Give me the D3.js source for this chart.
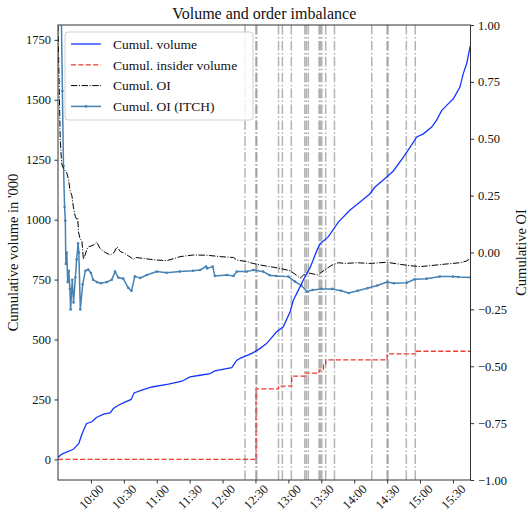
<!DOCTYPE html>
<html><head><meta charset="utf-8">
<script src="https://cdn.jsdelivr.net/npm/d3@7"></script>
<style>body{margin:0;background:#fff}svg{display:block}</style>
</head><body><svg id="c" width="528" height="516" font-family="'Liberation Serif', serif"></svg>
<script>
// ---- data ----
const volTimes = ["09:30","09:33:30","09:44","09:49","09:52","09:56","10:01","10:05","10:11:30","10:17:30","10:20:30","10:25","10:30","10:36:40","10:39:20","10:46:20","10:55:30","11:10:40","11:23","11:30:20","11:39:30","11:48:40","11:53","12:08:20","12:13","12:16","12:26:40","12:34","12:40","12:49:20","12:55:20","13:01:30","13:04:30","13:09","13:15","13:20","13:26","13:29","13:36:20","13:45:30","13:56","14:07","14:14:20","14:19","14:29:40","14:35:40","14:44:50","14:51","14:57","15:03","15:10:40","15:15","15:19:40","15:25:40","15:30:20","15:36:20","15:39:20","15:42:30","15:45:50"];
const volValues = [8,22,42,67,108,150,157,175,189,194,212,226,237,250,277,289,302,314,326,344,351,358,369,383,414,421,442,462,483,532,553,615,664,705,761,802,872,900,928,990,1039,1080,1108,1136,1178,1203,1261,1303,1345,1358,1386,1414,1455,1483,1504,1553,1608,1650,1726];

const insiderTimes = ["09:30","12:30:30","12:51","13:03","13:15","13:28","13:32","13:34","14:30","14:56","15:46"];
const insiderValues = [0,294,306,347,360,372,395,415,440,451,451];

const oiTimes = ["09:30","09:31","09:32","09:33:20","09:35","09:38","09:39:40","09:41","09:42:40","09:44","09:45:40","09:47:10","09:48","09:48:40","09:50:10","09:51:50","09:53:10","09:54:50","09:56:20","09:57:50","10:01","10:03","10:05:20","10:08:20","10:13","10:17:40","10:21:10","10:23:40","10:26:40","10:31:10","10:35:40","10:38:50","10:41:10","10:47:50","10:54","11:00","11:09","11:16:50","11:21:20","11:33:20","11:45:40","11:57:50","12:03:10","12:10","12:13","12:22","12:27:50","12:34:10","12:43:20","12:52:20","13:01:30","13:06","13:10:40","13:13:40","13:19:40","13:23:20","13:27:20","13:30:40","13:35","13:39:50","13:45:30","13:51:40","14:02:20","14:14:20","14:29:40","14:41:40","14:51","15:00","15:09","15:21","15:36:20","15:42","15:46"];
const oiValues = [1.0,0.75,0.5,0.39,0.37,0.35,0.32,0.27,0.25,0.2,0.16,0.145,0.15,0.09,0.06,0.05,-0.03,-0.01,0.015,0.025,0.03,0.035,0.045,0.018,0.0,-0.011,0.0,0.025,0.005,-0.005,-0.02,-0.03,-0.022,-0.026,-0.03,-0.033,-0.036,-0.025,-0.018,-0.011,-0.012,-0.018,-0.02,-0.022,-0.033,-0.04,-0.048,-0.055,-0.062,-0.07,-0.08,-0.095,-0.113,-0.099,-0.091,-0.095,-0.099,-0.085,-0.07,-0.055,-0.045,-0.048,-0.045,-0.048,-0.043,-0.052,-0.058,-0.062,-0.058,-0.052,-0.045,-0.038,-0.026];

const itchTimes = ["09:33","09:34","09:35","09:36","09:36:40","09:37:10","09:38","09:38:50","09:39:50","09:40:50","09:41:30","09:43","09:44:10","09:45:50","09:47","09:48:20","09:49","09:50:20","09:52:30","09:55","09:57:30","10:00","10:02","10:05:30","10:09","10:14:30","10:19","10:22","10:25","10:29:30","10:34","10:37","10:40","10:45","10:51","11:00","11:09","11:21","11:33","11:39:30","11:45","11:46","11:51","11:53","12:04","12:10","12:13","12:22","12:28","12:37","12:43","12:49","13:00","13:06","13:12","13:17","13:22","13:30","13:40","13:48","13:55","14:03","14:12","14:21","14:30","14:36","14:48","14:55","15:06","15:18","15:30","15:35","15:46"];
const itchValues = [1.05,0.71,0.38,0.2,0.14,-0.05,0.0,-0.13,-0.08,-0.16,-0.25,-0.12,-0.22,-0.11,-0.03,0.04,0.0,-0.25,-0.14,-0.08,-0.075,-0.09,-0.12,-0.13,-0.135,-0.13,-0.12,-0.084,-0.11,-0.115,-0.155,-0.168,-0.105,-0.112,-0.099,-0.084,-0.089,-0.084,-0.08,-0.077,-0.062,-0.07,-0.062,-0.103,-0.099,-0.103,-0.084,-0.084,-0.077,-0.084,-0.1,-0.103,-0.106,-0.128,-0.145,-0.172,-0.165,-0.16,-0.16,-0.168,-0.178,-0.168,-0.157,-0.145,-0.13,-0.135,-0.133,-0.118,-0.115,-0.106,-0.106,-0.108,-0.11];

const eventTimes = ["12:20:30","12:30:20","12:31:10","12:51","12:54:30","13:02:40","13:15","13:16:25","13:18:10","13:28","13:29:05","13:30:25","13:34","13:42","14:16","14:30","14:30:50","14:47:30","14:55:40"];

const xTickLabels = ["10:00","10:30","11:00","11:30","12:00","12:30","13:00","13:30","14:00","14:30","15:00","15:30"];
const leftTicks = [0,250,500,750,1000,1250,1500,1750];
const rightTicks = [-1,-0.75,-0.5,-0.25,0,0.25,0.5,0.75,1];

// ---- helpers ----
const FONT = "'Liberation Serif', serif";
const T = s => { const p = s.split(":").map(Number); return new Date(2000,0,1,p[0],p[1],p[2]||0); };
const zip = (ts, vs) => ts.map((t,i)=>({t:T(t), v:vs[i]}));

const svg = d3.select("#c");
const L=58, R=470.5, TOP=25, BOT=480;

const x = d3.scaleTime().domain([T("09:30"), T("15:46")]).range([L,R]);
const yL = d3.scaleLinear().domain([-86,1812]).range([BOT,TOP]);
const yR = d3.scaleLinear().domain([-1,1]).range([BOT,TOP]);

svg.append("clipPath").attr("id","clip").append("rect").attr("x",L).attr("y",TOP).attr("width",R-L).attr("height",BOT-TOP);
const g = svg.append("g").attr("clip-path","url(#clip)");

g.selectAll("line.ev").data(eventTimes).join("line")
  .attr("x1",d=>x(T(d))).attr("x2",d=>x(T(d))).attr("y1",TOP).attr("y2",BOT)
  .attr("stroke","#808080").attr("stroke-opacity",0.6).attr("stroke-width",1.5)
  .attr("stroke-dasharray","9.6,2.4,1.5,2.4");

const lineL = d3.line().x(d=>x(d.t)).y(d=>yL(d.v));
const lineR = d3.line().x(d=>x(d.t)).y(d=>yR(d.v));
const stepL = d3.line().curve(d3.curveStepAfter).x(d=>x(d.t)).y(d=>yL(d.v));

const itch = zip(itchTimes, itchValues);
g.append("path").datum(itch).attr("d",lineR).attr("fill","none").attr("stroke","#4682b4").attr("stroke-width",1.5);
g.selectAll("circle.it").data(itch).join("circle").attr("cx",d=>x(d.t)).attr("cy",d=>yR(d.v)).attr("r",1.3).attr("fill","#4682b4");

g.append("path").datum(zip(oiTimes, oiValues)).attr("d",lineR).attr("fill","none").attr("stroke","#000").attr("stroke-width",1)
  .attr("stroke-dasharray","6.4,1.6,1,1.6");

g.append("path").datum(zip(insiderTimes, insiderValues)).attr("d",stepL).attr("fill","none").attr("stroke","#f0392f").attr("stroke-width",1.3)
  .attr("stroke-dasharray","5,2.4");

g.append("path").datum(zip(volTimes, volValues)).attr("d",lineL).attr("fill","none").attr("stroke","#1536ff").attr("stroke-width",1.3);

svg.append("rect").attr("x",L).attr("y",TOP).attr("width",R-L).attr("height",BOT-TOP).attr("fill","none").attr("stroke","#333").attr("stroke-width",1);

const fmtR = d => d3.format(".2f")(d).replace("-","\u2212");
const axL = svg.append("g").attr("transform",`translate(${L},0)`).call(d3.axisLeft(yL).tickValues(leftTicks).tickFormat(d3.format("d")).tickSize(3.5).tickPadding(3.5));
const axR = svg.append("g").attr("transform",`translate(${R},0)`).call(d3.axisRight(yR).tickValues(rightTicks).tickFormat(fmtR).tickSize(3.5).tickPadding(4));
const xVals = xTickLabels.map(T);
const axB = svg.append("g").attr("transform",`translate(0,${BOT})`).call(d3.axisBottom(x).tickValues(xVals).tickFormat(d3.timeFormat("%H:%M")).tickSize(3.5));
[axL,axR,axB].forEach(a=>{a.attr("font-family",FONT).attr("font-size",12.5); a.select(".domain").remove(); a.selectAll("line").attr("stroke","#333"); a.selectAll("text").attr("fill","#111");});
axB.selectAll("text").attr("y",0).attr("dy",null).attr("text-anchor","middle").attr("dominant-baseline","central")
  .attr("transform","translate(0,17) rotate(-45)");

svg.append("text").attr("x",(L+R)/2).attr("y",19).attr("text-anchor","middle").attr("font-size",16).attr("fill","#111").text("Volume and order imbalance");
svg.append("text").attr("transform",`translate(18,${(TOP+BOT)/2}) rotate(-90)`).attr("text-anchor","middle").attr("font-size",14.5).attr("fill","#111").text("Cumulative volume in '000");
svg.append("text").attr("transform",`translate(526,${(TOP+BOT)/2}) rotate(-90)`).attr("text-anchor","middle").attr("font-size",14.5).attr("fill","#111").text("Cumulative OI");

const leg = svg.append("g");
leg.append("rect").attr("x",65).attr("y",32).attr("width",188).attr("height",88).attr("rx",3).attr("fill","#fff").attr("fill-opacity",0.8).attr("stroke","#d0d0d0");
const items = [
  {label:"Cumul. volume", color:"#1536ff", dash:null, w:1.3},
  {label:"Cumul. insider volume", color:"#f0392f", dash:"5,2.4", w:1.3},
  {label:"Cumul. OI", color:"#000", dash:"6.4,1.6,1,1.6", w:1},
  {label:"Cumul. OI (ITCH)", color:"#4682b4", dash:null, w:1.5, marker:true}
];
items.forEach((it,i)=>{
  const yy = 44 + i*20.8;
  leg.append("line").attr("x1",71).attr("x2",101).attr("y1",yy).attr("y2",yy).attr("stroke",it.color).attr("stroke-width",it.w).attr("stroke-dasharray",it.dash);
  if(it.marker) leg.append("circle").attr("cx",86).attr("cy",yy).attr("r",1.3).attr("fill",it.color);
  leg.append("text").attr("x",113).attr("y",yy).attr("dy","0.35em").attr("font-size",13.5).attr("fill","#111").text(it.label);
});
</script></body></html>
